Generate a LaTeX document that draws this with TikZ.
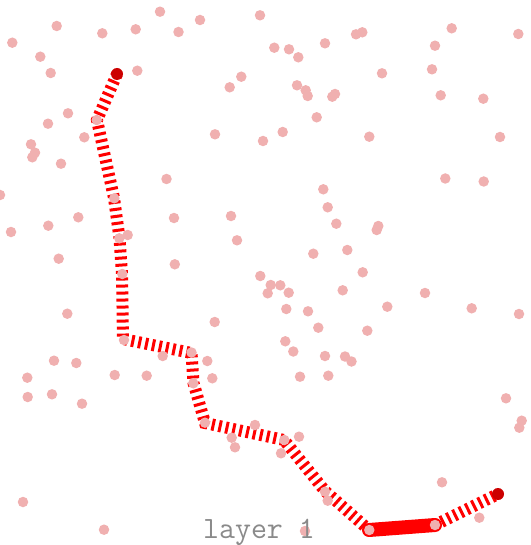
\documentclass[tikz,border=0pt]{standalone}
\usepackage{fontspec}
\definecolor{dotpink}{HTML}{F0B0B0}
\definecolor{darkdot}{HTML}{CC0000}
\definecolor{labelgray}{HTML}{8A8A8A}
\begin{document}
\begin{tikzpicture}[x=1pt,y=-1pt,
  route/.style={draw=red,line width=12pt,dash pattern=on 3pt off 4pt},
  solidroute/.style={draw=red,line width=14pt,line cap=round},
  pinkdot/.style={circle,fill=dotpink,inner sep=0pt,minimum size=10.5pt},
  enddot/.style={circle,fill=darkdot,inner sep=0pt,minimum size=12pt},
  lbl/.style={font=\ttfamily\fontsize{31}{33}\selectfont,text=labelgray,inner sep=0pt}]
\useasboundingbox (0,0) rectangle (530,545);
% route vertices
\coordinate (v0) at (117,74);
\coordinate (v1) at (97,120);
\coordinate (v2) at (114,198);
\coordinate (v3) at (119.5,238);
\coordinate (v4) at (122,274);
\coordinate (v5) at (123,339);
\coordinate (v6) at (191.5,353);
\coordinate (v7) at (193.5,383);
\coordinate (v8) at (205,423);
\coordinate (v9) at (284,440);
\coordinate (v10) at (325,491);
\coordinate (v11) at (369,530);
\coordinate (v12) at (435,525);
\coordinate (v13) at (498,494);
\draw[route] (v0) -- (v1) -- (v2) -- (v3) -- (v4) -- (v5) -- (v6) -- (v7) -- (v8) -- (v9) -- (v10) -- (v11);
\draw[solidroute] (v11) -- (v12);
\draw[route] (v12) -- (v13);
% scattered points
\foreach \px/\py [count=\i] in {
56.7/26, 12.3/42.7, 102.3/33.3, 135.7/29.3, 160/11.7, 178.5/32, 40.3/56.7, 50.7/73,
137.3/70.7, 68/113.3, 48/123.7, 96.7/120, 84.3/137.3, 31/144.3, 35/152.7, 32.3/157.3,
61/163.7, 166.5/179, 200/20, 260/15.3, 274.3/47.7, 289/49.3, 298.3/57.3, 325/43.3,
241.3/76.7, 229.7/87.3, 297/85.3, 305.7/90.3, 307.7/96, 332.3/96.7, 335/94, 316.7/117.3,
215/134.3, 263/141, 282.7/132, 356/34.3, 362.3/32.3, 451.7/28.3, 518.3/34, 435/45.7,
382/73.3, 432/69.3, 440.7/95.3, 483.3/98.7, 369.3/136.7, 500/137, 445.3/178.5, 483.7/181.5,
0/195, 114.3/198.3, 78.3/217.3, 48.3/225.7, 11/232, 174/218, 119.3/238.3, 127.7/235,
58.7/258.7, 174.8/264.3, 122.3/274, 67.3/313.7, 124/340, 162.7/356,
231/216, 237/240.3, 323.3/189.3, 327.7/207.3, 336.3/223.7, 347.3/250, 313.3/253.7, 260.3/276,
270.7/285, 280.3/285.3, 267.7/293.3, 288.7/292.7, 342.7/290.3, 286.3/309, 308/311.3, 318.3/327.7,
214.7/322, 285.3/341.3, 293.3/351.5, 325/356, 345/356.5, 351.5/361.5, 191.5/352.5,
378.3/226, 376.7/230, 362.7/272.3, 425/293, 387.3/306.7, 471.7/308.3, 519/314, 367.3/330.7,
54/360.7, 76.3/363, 27.3/377.7, 114.7/375, 146.7/375.7, 27.7/397, 52/394.3, 82/403.7,
23/502, 104/529.7, 207.3/361, 212.3/378.3, 193.3/383.3, 300/376.7, 328.3/375.7, 205/422.7,
255/425, 231.7/437.7, 235/447.3, 284.3/440, 299/436.7, 281/453.3, 325/491.7, 327.7/500.7,
305/531, 506/398.3, 521.7/420.7, 519.3/427.7, 442/482.3, 479.3/517.7, 369.3/530, 435/525}
  \node[pinkdot] (p\i) at (\px,\py) {};
% end points
\node[enddot] (start) at (v0) {};
\node[enddot] (finish) at (v13) {};
% label
\node[lbl,anchor=base] (layer) at (259,538) {layer 1};
\end{tikzpicture}
\end{document}
